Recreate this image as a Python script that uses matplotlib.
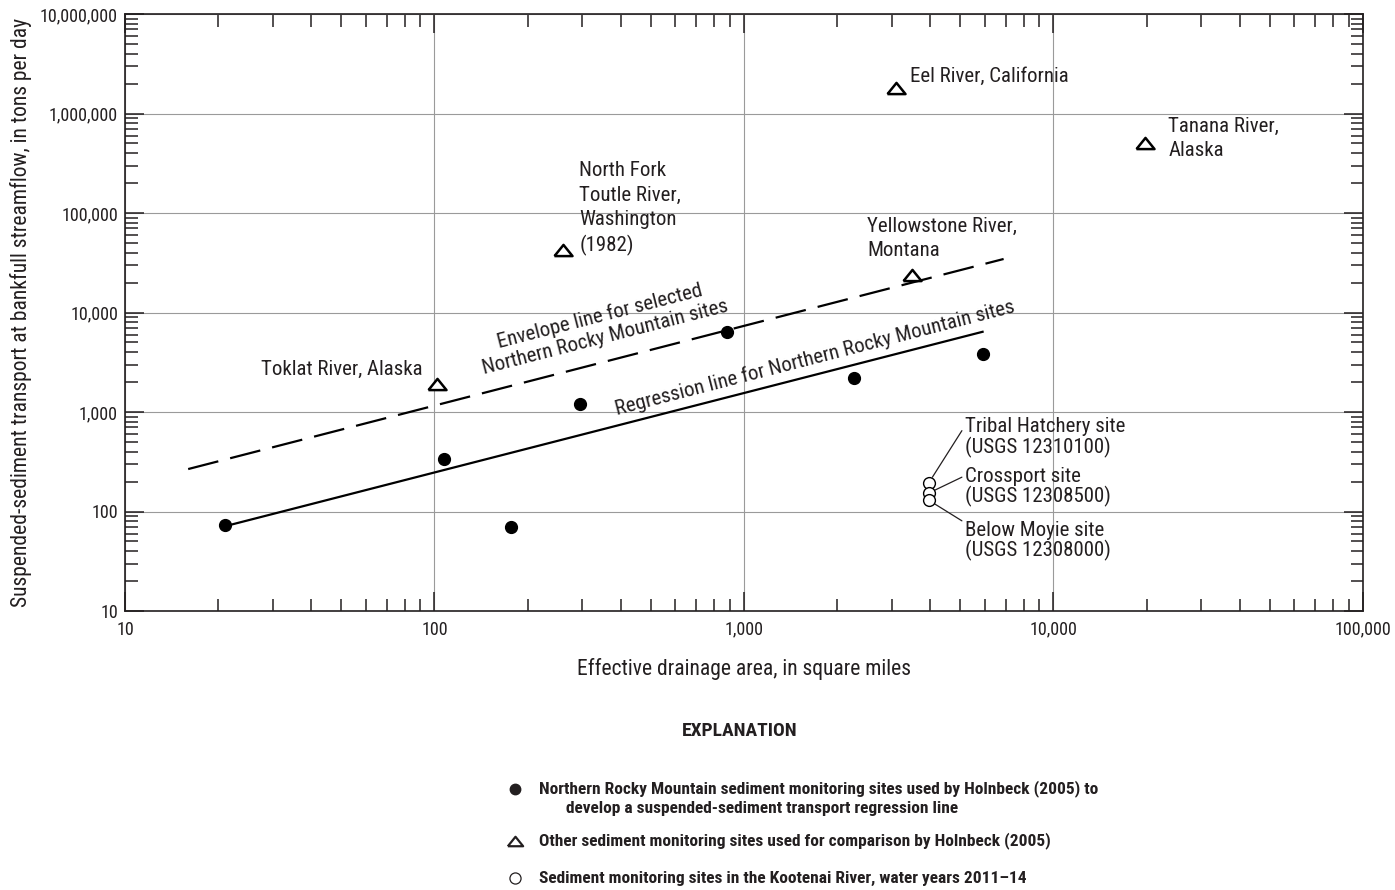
import numpy as np
import matplotlib.pyplot as plt
from matplotlib.lines import Line2D
from matplotlib.ticker import LogLocator, FuncFormatter, NullFormatter

plt.rcParams['font.family'] = ['Liberation Sans Narrow', 'DejaVu Sans Condensed',
                               'Roboto Condensed', 'Liberation Sans', 'DejaVu Sans']

INK = '#231f20'

# Northern Rocky Mountain monitoring sites (Holnbeck, 2005)
nrm_area = [21, 107, 177, 296, 880, 2260, 5900]
nrm_load = [73, 340, 70, 1200, 6400, 2200, 3800]

# other comparison sites
other_names = ['Toklat', 'North Fork Toutle', 'Yellowstone', 'Eel', 'Tanana']
other_area = [102, 261, 3480, 3090, 19800]
other_load = [1900, 42000, 24000, 1800000, 500000]

# Kootenai River sites, water years 2011-14
koot_names = ['Tribal Hatchery', 'Crossport', 'Below Moyie']
koot_area = [3950, 3950, 3950]
koot_load = [193, 153, 130]

# regression and envelope lines (end points)
reg_area = [21, 5900]
reg_load = [71, 6400]
env_area = [16, 6900]
env_load = [267, 34500]

tri = [(-1, -0.62), (1, -0.62), (0, 0.62), (-1, -0.62)]

fig = plt.figure(figsize=(13.95, 8.90), dpi=100)
ax = fig.add_axes([125 / 1395, 1 - 611 / 890, (1363 - 125) / 1395, (611 - 14) / 890])

ax.set_xscale('log')
ax.set_yscale('log')
ax.set_xlim(10, 100000)
ax.set_ylim(10, 10000000)

ax.grid(True, which='major', color='#9a9a9a', lw=0.8)
ax.set_axisbelow(True)

ax.plot(env_area, env_load, color='black', lw=1.6, dashes=(14, 5.5), zorder=3)
ax.plot(reg_area, reg_load, color='black', lw=1.6, zorder=3)

ax.plot(nrm_area, nrm_load, 'o', color='black', ms=8.5, zorder=4)
ax.plot(other_area, other_load, ls='none', marker=tri, ms=13, mfc='white',
        mec='black', mew=1.8, zorder=4)
ax.plot(koot_area, koot_load, 'o', ms=8.5, mfc='white', mec='black', mew=1.0, zorder=4)

fmt = FuncFormatter(lambda v, p: '{:,.0f}'.format(v))
ax.xaxis.set_major_formatter(fmt)
ax.yaxis.set_major_formatter(fmt)
ax.xaxis.set_minor_locator(LogLocator(base=10, subs=np.arange(2, 10)))
ax.yaxis.set_minor_locator(LogLocator(base=10, subs=np.arange(2, 10)))
ax.xaxis.set_minor_formatter(NullFormatter())
ax.yaxis.set_minor_formatter(NullFormatter())
ax.tick_params(which='both', direction='in', top=True, right=True, colors=INK,
               width=1.1, labelsize=13, labelcolor=INK)
ax.tick_params(which='major', length=13.5)
ax.tick_params(which='minor', length=9)
ax.tick_params(axis='x', which='major', pad=7)
ax.tick_params(axis='y', which='major', pad=5)
for s in ax.spines.values():
    s.set_linewidth(1.2)
    s.set_color(INK)

ax.set_xlabel('Effective drainage area, in square miles', fontsize=15.5, color=INK, labelpad=14)
ax.set_ylabel('Suspended-sediment transport at bankfull streamflow, in tons per day',
              fontsize=15.5, color=INK, labelpad=6)

tkw = dict(fontsize=15, color=INK, linespacing=1.35)
ax.text(3450, 2.38e6, 'Eel River, California', va='center', ha='left', **tkw)
ax.text(23500, 5.6e5, 'Tanana River,\nAlaska', va='center', ha='left', **tkw)
ax.text(2500, 55400, 'Yellowstone River,\nMontana', va='center', ha='left', **tkw)
ax.text(294, 111000, 'North Fork\nToutle River,\nWashington\n(1982)', va='center', ha='left', **tkw)
ax.text(91.5, 2700, 'Toklat River, Alaska', va='center', ha='right', **tkw)

ax.text(348, 7150, 'Envelope line for selected\nNorthern Rocky Mountain sites',
        rotation=14.4, rotation_mode='anchor', ha='center', va='center',
        multialignment='center', fontsize=15, color=INK, linespacing=1.15)
ax.text(1694, 3490, 'Regression line for Northern Rocky Mountain sites',
        rotation=14.5, rotation_mode='anchor', ha='center', va='center', **tkw)

lead = dict(arrowstyle='-', color=INK, lw=0.9, shrinkA=0, shrinkB=5)
ktxt = ['Tribal Hatchery site\n(USGS 12310100)',
        'Crossport site\n(USGS 12308500)',
        'Below Moyie site\n(USGS 12308000)']
ktxt_y = [554, 176, 51]
krel = [(0, 0.78), (0, 0.78), (0, 0.95)]
for i in range(3):
    ax.annotate(ktxt[i], xy=(koot_area[i], koot_load[i]), xytext=(5164, ktxt_y[i]),
                va='center', ha='left', fontsize=15, color=INK, linespacing=1.0,
                arrowprops=dict(relpos=krel[i], **lead))

# explanation block
fig.text(740 / 1395, 1 - 731 / 890, 'EXPLANATION', ha='center', va='center',
         fontsize=14, fontweight='bold', color=INK)
lkw = dict(ha='left', va='center', fontsize=12.5, fontweight='bold', color=INK)
rows = [789, 841, 878]
fig.text(539 / 1395, 1 - rows[0] / 890,
         'Northern Rocky Mountain sediment monitoring sites used by Holnbeck (2005) to', **lkw)
fig.text(566 / 1395, 1 - 808 / 890,
         'develop a suspended-sediment transport regression line', **lkw)
fig.text(539 / 1395, 1 - rows[1] / 890,
         'Other sediment monitoring sites used for comparison by Holnbeck (2005)', **lkw)
fig.text(539 / 1395, 1 - rows[2] / 890,
         'Sediment monitoring sites in the Kootenai River, water years 2011\u201314', **lkw)
mx = 515 / 1395
fig.add_artist(Line2D([mx], [1 - rows[0] / 890], marker='o', ms=7.5, color=INK,
                      transform=fig.transFigure))
fig.add_artist(Line2D([mx], [1 - rows[1] / 890], marker=tri, ms=11, mfc='white',
                      mec=INK, mew=1.6, transform=fig.transFigure))
fig.add_artist(Line2D([mx], [1 - rows[2] / 890], marker='o', ms=8, mfc='white',
                      mec=INK, mew=0.9, transform=fig.transFigure))

fig.savefig('out.png', dpi=100)
